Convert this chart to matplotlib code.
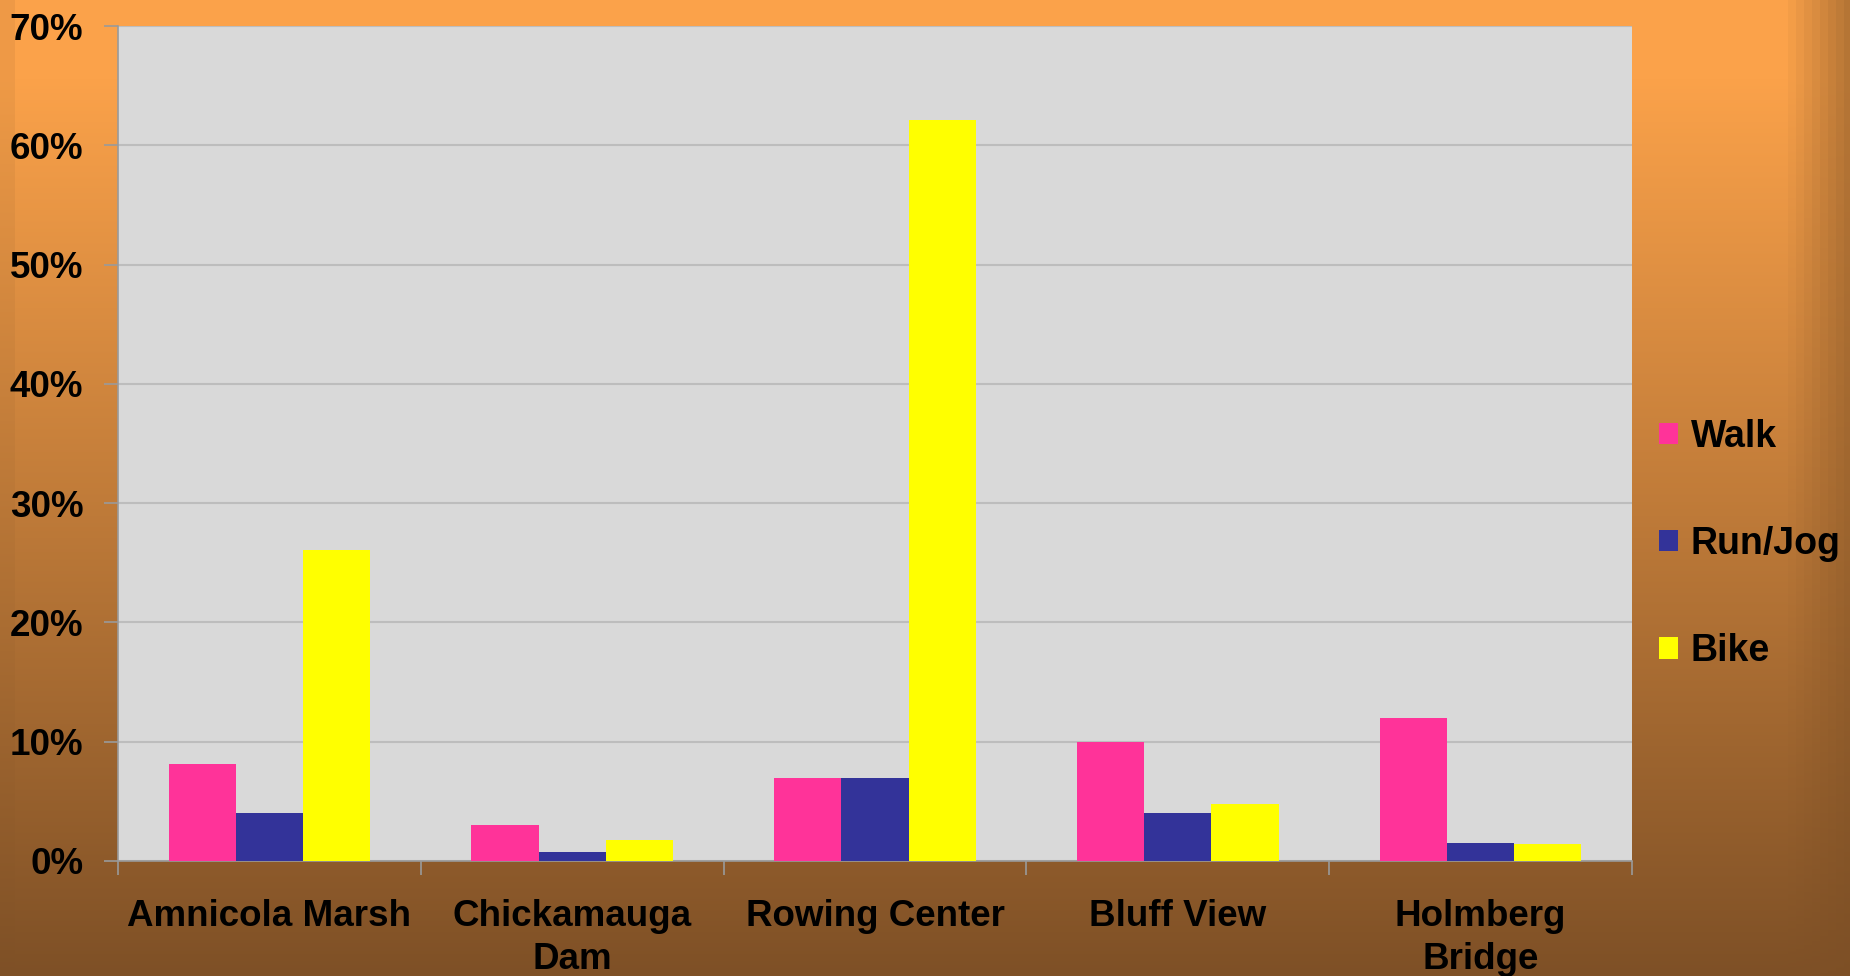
import numpy as np
import matplotlib.pyplot as plt
from matplotlib.patches import Patch

# -------------------------
# Datos
# -------------------------
sites = ["Amnicola Marsh", "Chickamauga\nDam", "Rowing Center", "Bluff View", "Holmberg\nBridge"]
walk = [8.1, 3.0, 7.0, 10.0, 12.0]
run_jog = [4.0, 0.75, 7.0, 4.0, 1.5]
bike = [26.1, 1.8, 62.1, 4.8, 1.4]
series_names = ["Walk", "Run/Jog", "Bike"]
series_colors = ["#FF3399", "#333399", "#FFFF00"]
y_ticks = [0, 10, 20, 30, 40, 50, 60, 70]

FONT = "Liberation Sans"
W_PX, H_PX = 1850, 976


def background(h, w):
    # degradado naranja -> marron, con bandas mas oscuras en los bordes
    top = np.array([251, 162, 74]) / 255.0
    bottom = np.array([126, 80, 38]) / 255.0
    t = np.clip((np.linspace(0, 1, h) - 0.08) / 0.92, 0, 1)[:, None, None]
    img = top * (1 - t) + bottom * t
    img = np.repeat(img, w, axis=1)
    shade = np.zeros(w)
    for i, x0 in enumerate(range(w - 62, w, 8)):
        shade[x0:] = 0.03 + 0.035 * i
    shade[:15] = 0.05
    fade = (1 - t[:, :, 0]) ** 0.7
    return img * (1 - shade[None, :] * fade)[:, :, None]


fig = plt.figure(figsize=(W_PX / 100, H_PX / 100), dpi=100)
bg = fig.add_axes([0, 0, 1, 1])
bg.imshow(background(H_PX, W_PX), aspect="auto", extent=[0, 1, 0, 1])
bg.axis("off")

ax = fig.add_axes([118 / W_PX, 115 / H_PX, (1632 - 118) / W_PX, (861 - 26) / H_PX])
ax.set_facecolor("#D9D9D9")

x = np.arange(len(sites))
bw = 0.222
for k, (vals, name, col) in enumerate(zip([walk, run_jog, bike], series_names, series_colors)):
    ax.bar(x + (k - 1) * bw, vals, width=bw, color=col, label=name, zorder=3)

ax.set_xlim(-0.5, len(sites) - 0.5)
ax.set_ylim(0, 70)
ax.set_yticks(y_ticks)
ax.set_yticklabels([f"{v}%" for v in y_ticks])
ax.yaxis.grid(True, color="#BDBDBD", linewidth=1.5, zorder=0)
ax.set_axisbelow(True)

ax.set_xticks(x)
ax.set_xticklabels(sites, linespacing=1.3)
ax.tick_params(axis="x", length=0, pad=27)
ax.set_xticks(np.arange(-0.5, len(sites)), minor=True)
ax.tick_params(axis="x", which="minor", length=10, color="#9A9A9A", width=1.2)
ax.tick_params(axis="y", length=10, color="#9A9A9A", width=1.2, pad=15)

for lab in ax.get_xticklabels() + ax.get_yticklabels():
    lab.set_fontfamily(FONT)
    lab.set_fontweight("bold")
    lab.set_fontsize(26.5)
    lab.set_color("black")

for s in ["top", "right"]:
    ax.spines[s].set_visible(False)
for s in ["left", "bottom"]:
    ax.spines[s].set_color("#9A9A9A")
    ax.spines[s].set_linewidth(1.2)

handles = [Patch(facecolor=c, label=n) for n, c in zip(series_names, series_colors)]
fig.legend(handles=handles, loc="center left", bbox_to_anchor=(1644 / W_PX, (H_PX - 544) / H_PX),
           frameon=False, handlelength=0.5, handleheight=0.5, handletextpad=0.35,
           labelspacing=1.9, borderaxespad=0,
           prop={"family": FONT, "weight": "bold", "size": 27})

fig.savefig("out.png", dpi=100)
